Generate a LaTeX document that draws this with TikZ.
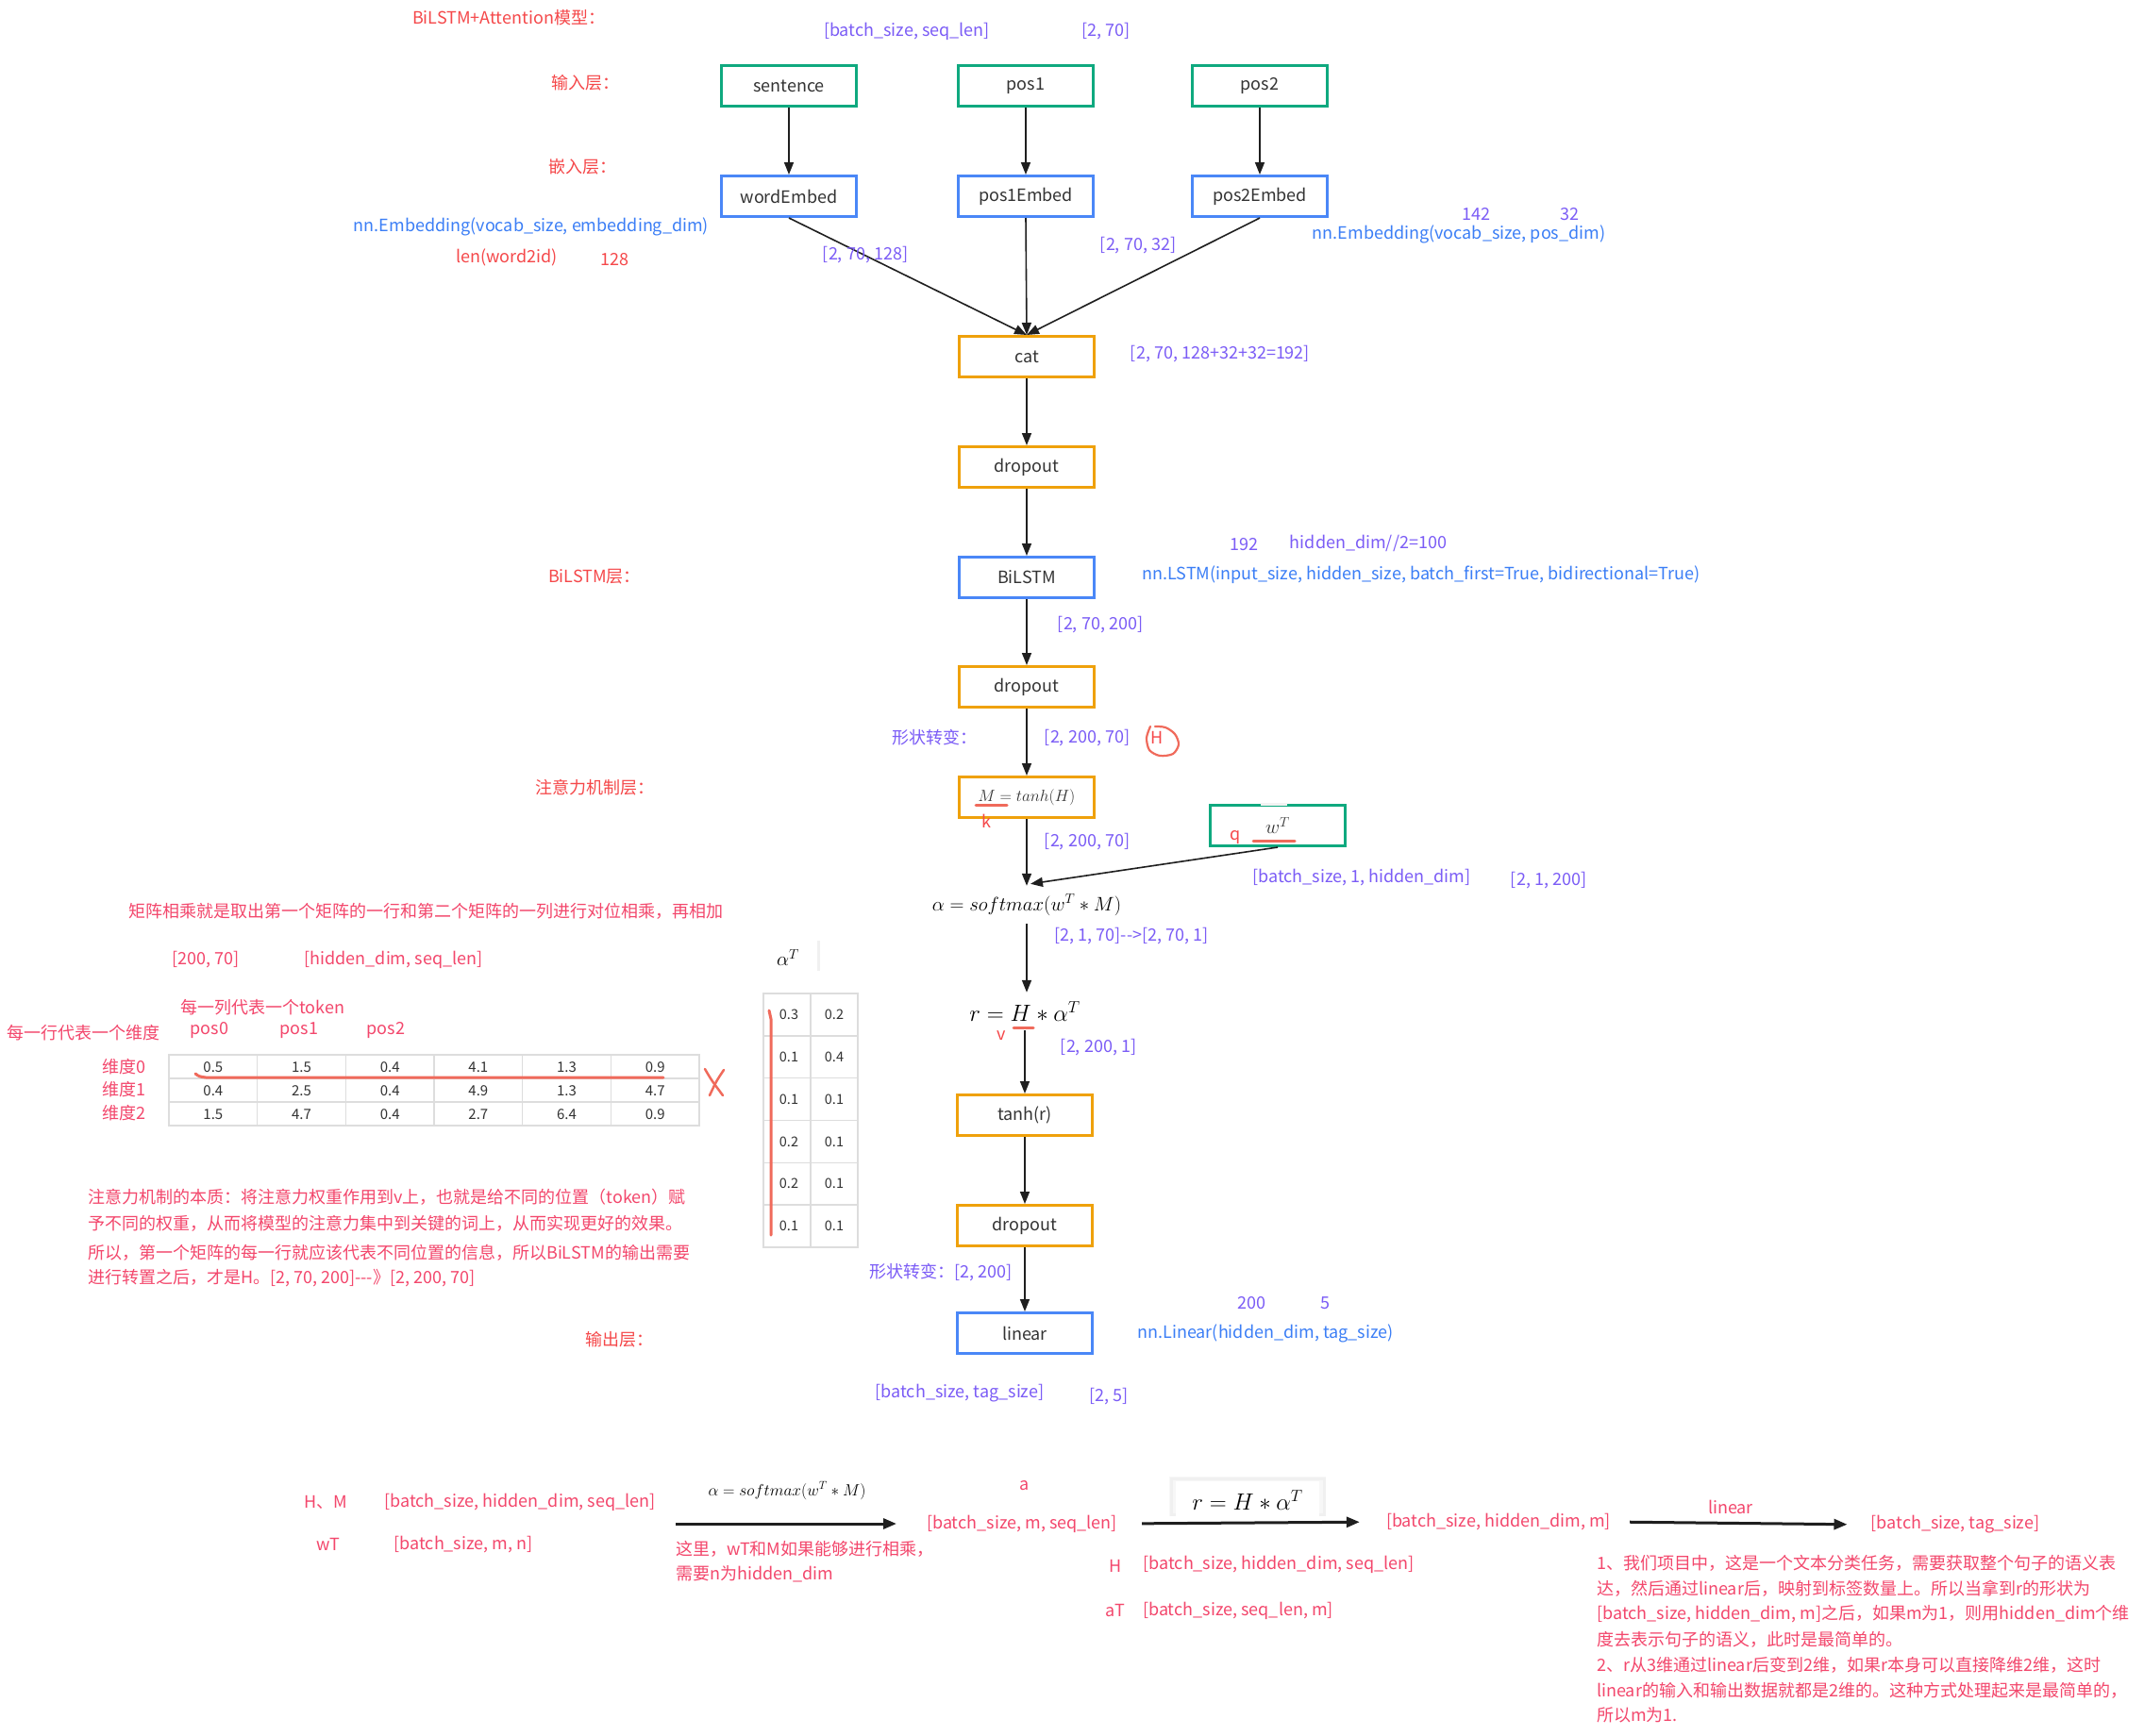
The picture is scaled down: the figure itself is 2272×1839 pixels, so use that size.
\documentclass[tikz,border=0pt]{standalone}
\usepackage[no-math]{fontspec}
\setmainfont{Noto Sans CJK SC}
\usetikzlibrary{arrows.meta,calc}
\definecolor{cR}{HTML}{F5484A}
\definecolor{cP}{HTML}{F3476C}
\definecolor{cV}{HTML}{7B5CF6}
\definecolor{cB}{HTML}{3B7EF6}
\definecolor{cG}{HTML}{0FA97F}
\definecolor{cBB}{HTML}{4A87F7}
\definecolor{cO}{HTML}{EFA10B}
\definecolor{cS}{HTML}{F06A5B}
\definecolor{cT}{HTML}{333333}
\definecolor{cL}{HTML}{DDDDDD}
\newcommand\fsz[2]{\fontsize{#1}{#2}\selectfont}
\begin{document}
\begin{tikzpicture}[x=1pt,y=-1pt,
  every node/.style={inner sep=0pt,font=\fsz{18}{22}},
  box/.style={draw,line width=3pt,minimum width=143pt,minimum height=43pt,inner sep=0pt,font=\fsz{18}{22},text=cT},
  gbox/.style={box,draw=cG},
  bbox/.style={box,draw=cBB},
  obox/.style={box,draw=cO},
  arr/.style={-{Triangle[length=13pt,width=10pt]},line width=1.6pt,draw=black!88},
  barr/.style={-{Triangle[length=14pt,width=11pt]},line width=3pt,draw=black!88},
  redln/.style={draw=cS,line width=3pt,line cap=round},
  tbl/.style={draw=cL,line width=1.5pt},
  vl/.style={text=cV},
  bl/.style={text=cB},
  rl/.style={text=cR},
  pl/.style={text=cP},
  tv/.style={text=cT,font=\fsz{15}{18}},
  tw/.style={text=cT,font=\fsz{14.5}{17}}]
\useasboundingbox (0,0) rectangle (2272,1839);
\fill[white] (0,0) rectangle (2272,1839);

% ---------- main boxes ----------
\node[gbox] (sent) at (836,91) {sentence};
\node[gbox] (p1) at (1087,91) {pos1};
\node[gbox] (p2) at (1335,91) {pos2};
\node[bbox] (we) at (836,208) {wordEmbed};
\node[bbox] (p1e) at (1087,208) {pos1Embed};
\node[bbox] (p2e) at (1335,208) {pos2Embed};
\node[obox] (cat) at (1088,378) {cat};
\node[obox] (d1) at (1088,495) {dropout};
\node[bbox] (lstm) at (1088,612) {BiLSTM};
\node[obox] (d2) at (1088,728) {dropout};
\node[obox,font=\fsz{16}{19}] (mb) at (1088,845) {$M = tanh(H)$};
\node[gbox,font=\fsz{20}{24}] (wt) at (1354,875) {$w^T$};
\draw[gray!10,line width=3pt] (1336,852) -- (1364,852);
\node[minimum height=40pt,font=\fsz{20}{24}] (al) at (1088,959) {$\alpha = softmax(w^T * M)$};
\node[minimum height=40pt,font=\fsz{24}{28}] (rf) at (1086,1072) {$r = H * \alpha^T$};
\node[obox] (tr) at (1086,1182) {tanh(r)};
\node[obox] (d3) at (1086,1299) {dropout};
\node[bbox] (lin) at (1086,1413) {linear};

% ---------- connectors ----------
\draw[arr] (sent) -- (we);
\draw[arr] (p1) -- (p1e);
\draw[arr] (p2) -- (p2e);
\draw[arr] (we.south) -- (cat.north);
\draw[arr] (p1e.south) -- (cat.north);
\draw[arr] (p2e.south) -- (cat.north);
\draw[arr] (cat) -- (d1);
\draw[arr] (d1) -- (lstm);
\draw[arr] (lstm) -- (d2);
\draw[arr] (d2) -- (mb);
\draw[arr] (mb.south) -- (al.north);
\draw[arr] (wt.south) -- ($(al.north)+(4,-2)$);
\draw[arr] (al.south) -- (al.south |- rf.north);
\draw[arr] (rf.south -| tr.north) -- (tr.north);
\draw[arr] (tr) -- (d3);
\draw[arr] (d3) -- (lin);

% red marks on formulas
\draw[redln] (1034,853) -- (1067,853);
\node[rl] (kk) at (1045,870) {k};
\draw[redln] (1328,891) -- (1372,891);
\node[rl] (qq) at (1309,888) {q};
\draw[redln] (1074,1089) -- (1095,1089);
\node[rl] (vv) at (1061,1098) {v};
\node[rl] (hh) at (1226,782) {H};
\draw[redln,line width=2.2pt] plot[smooth] coordinates {(1219,770) (1215,782) (1218,795) (1229,801) (1243,799) (1249,789) (1245,778) (1235,771) (1224,770)};

% ---------- left labels ----------
\node[rl] (title) at (539,19) {BiLSTM+Attention模型：};
\node[rl] (l1) at (620,88) {输入层：};
\node[rl] (l2) at (617,177) {嵌入层：};
\node[rl] (l3) at (630,611) {BiLSTM层：};
\node[rl] (l4) at (630,835) {注意力机制层：};
\node[rl] (l5) at (656,1420) {输出层：};
\node[bl] (ne1) at (563,240) {nn.Embedding(vocab\_size, embedding\_dim)};
\node[rl] (lw) at (537,273) {len(word2id)};
\node[rl] (n128) at (651,275) {128};

% ---------- shape labels ----------
\node[vl] (s1) at (961,33) {[batch\_size, seq\_len]};
\node[vl] (s2) at (1172,33) {[2, 70]};
\node[vl] (s3) at (917,270) {[2, 70, 128]};
\node[vl] (s4) at (1206,260) {[2, 70, 32]};
\node[vl] (s5) at (1564,227) {142};
\node[vl] (s6) at (1663,227) {32};
\node[bl] (ne2) at (1546,248) {nn.Embedding(vocab\_size, pos\_dim)};
\node[vl] (s7) at (1293,375) {[2, 70, 128+32+32=192]};
\node[vl] (s8) at (1318,577) {192};
\node[vl] (s9) at (1450,576) {hidden\_dim//2=100};
\node[bl] (nl) at (1506,609) {nn.LSTM(input\_size, hidden\_size, batch\_first=True, bidirectional=True)};
\node[vl] (s10) at (1166,662) {[2, 70, 200]};
\node[vl] (s11) at (990,782) {形状转变：};
\node[vl] (s12) at (1152,782) {[2, 200, 70]};
\node[vl] (s13) at (1152,892) {[2, 200, 70]};
\node[vl] (s14) at (1443,930) {[batch\_size, 1, hidden\_dim]};
\node[vl] (s15) at (1641,933) {[2, 1, 200]};
\node[vl] (s16) at (1199,992) {[2, 1, 70]-\kern0pt-\kern0pt>[2, 70, 1]};
\node[vl] (s17) at (1164,1110) {[2, 200, 1]};
\node[vl] (s18) at (997,1349) {形状转变：[2, 200]};
\node[vl] (s19) at (1326,1381) {200};
\node[vl] (s20) at (1404,1381) {5};
\node[bl] (nlin) at (1341,1413) {nn.Linear(hidden\_dim, tag\_size)};
\node[vl] (s21) at (1017,1477) {[batch\_size, tag\_size]};
\node[vl] (s22) at (1175,1480) {[2, 5]};

% ---------- matrix explanation ----------
\node[pl] (m1) at (451,966) {矩阵相乘就是取出第一个矩阵的一行和第二个矩阵的一列进行对位相乘，再相加};
\node[pl] (m2) at (218,1017) {[200, 70]};
\node[pl] (m3) at (417,1017) {[hidden\_dim, seq\_len]};
\node[pl] (m4) at (278,1068) {每一列代表一个token};
\node[pl] (m5) at (88,1095) {每一行代表一个维度};
\node[pl] (pp0) at (222,1092) {pos0};
\node[pl] (pp1) at (317,1092) {pos1};
\node[pl] (pp2) at (409,1092) {pos2};
\node[pl] (dd0) at (131,1131) {维度0};
\node[pl] (dd1) at (131,1155) {维度1};
\node[pl] (dd2) at (131,1180) {维度2};

% table 1
\draw[tbl] (179,1118) rectangle (741,1193);
\foreach \yy in {1143,1168} \draw[tbl] (179,\yy) -- (741,\yy);
\foreach \i in {1,...,5} \draw[tbl] ({179+93.67*\i},1118) -- ({179+93.67*\i},1193);
\foreach \v [count=\c from 0] in {0.5,1.5,0.4,4.1,1.3,0.9}
  \node[tv] (ta\c) at ({179+93.67*(\c+0.5)},1131) {\v};
\foreach \v [count=\c from 0] in {0.4,2.5,0.4,4.9,1.3,4.7}
  \node[tv] (tb\c) at ({179+93.67*(\c+0.5)},1156) {\v};
\foreach \v [count=\c from 0] in {1.5,4.7,0.4,2.7,6.4,0.9}
  \node[tv] (tc\c) at ({179+93.67*(\c+0.5)},1181) {\v};
\draw[redln] (207,1138) .. controls (211,1141) .. (218,1142) -- (703,1142);
\draw[redln,line width=2.5pt] (747,1133) .. controls (754,1145) .. (766,1161);
\draw[redln,line width=2.5pt] (767,1134) .. controls (759,1146) .. (752,1161);

% alpha^T and table 2
\node[font=\fsz{21}{25}] (aT) at (835,1015) {$\alpha^T$};
\draw[gray!12,line width=3pt] (867,997) -- (867,1029);
\draw[tbl] (809,1053) rectangle (909,1322);
\draw[tbl] (859,1053) -- (859,1322);
\foreach \i in {1,...,5} \draw[tbl] (809,{1053+44.83*\i}) -- (909,{1053+44.83*\i});
\foreach \a/\b [count=\r from 0] in {0.3/0.2,0.1/0.4,0.1/0.1,0.2/0.1,0.2/0.1,0.1/0.1}{
  \node[tw] (ua\r) at (836,{1075.4+44.83*\r}) {\a};
  \node[tw] (ub\r) at (884,{1075.4+44.83*\r}) {\b};
}
\draw[redln] (815,1071) -- (817,1080) -- (817,1309);

% paragraph
\node[pl,anchor=west] (pa1) at (93,1269) {注意力机制的本质：将注意力权重作用到v上，也就是给不同的位置（token）赋};
\node[pl,anchor=west] (pa2) at (93,1297) {予不同的权重，从而将模型的注意力集中到关键的词上，从而实现更好的效果。};
\node[pl,anchor=west] (pa3) at (93,1328) {所以，第一个矩阵的每一行就应该代表不同位置的信息，所以BiLSTM的输出需要};
\node[pl,anchor=west] (pa4) at (93,1355) {进行转置之后，才是H。[2, 70, 200]-\kern0pt-\kern0pt-》[2, 200, 70]};

% ---------- bottom section ----------
\node[pl] (bHM) at (345,1592) {H、M};
\node[pl] (bHMs) at (551,1592) {[batch\_size, hidden\_dim, seq\_len]};
\node[pl] (bwT) at (348,1637) {wT};
\node[pl] (bwTs) at (491,1637) {[batch\_size, m, n]};
\node[font=\fsz{18.5}{22}] (bal) at (834,1580) {$\alpha = softmax(w^T * M)$};
\coordinate (a1s) at (716,1615);
\coordinate (a1e) at (950,1615);
\draw[barr] (a1s) -- (a1e);
\node[pl,anchor=west] (bn1) at (716,1642) {这里，wT和M如果能够进行相乘，};
\node[pl,anchor=west] (bn2) at (716,1668) {需要n为hidden\_dim};
\node[pl] (ba) at (1086,1575) {a};
\node[pl] (bms) at (1083,1615) {[batch\_size, m, seq\_len]};
\fill[gray!6] (1239,1565) rectangle (1405,1607);
\draw[gray!12,line width=3pt] (1241,1567) rectangle (1403,1605);
\fill[white] (1246,1570) rectangle (1398,1607);
\node[font=\fsz{25}{29}] (brf) at (1322,1590) {$r = H * \alpha^T$};
\node[pl] (bhm) at (1588,1613) {[batch\_size, hidden\_dim, m]};
\draw[barr,shorten <=26pt,shorten >=28pt] (bms.east) -- (bhm.west);
\node[pl] (blin) at (1834,1597) {linear};
\node[pl] (bts) at (2072,1616) {[batch\_size, tag\_size]};
\draw[barr,shorten <=20pt,shorten >=25pt] (bhm.east) -- (bts.west);
\node[pl] (bH) at (1182,1660) {H};
\node[pl] (bHs) at (1355,1658) {[batch\_size, hidden\_dim, seq\_len]};
\node[pl] (baT) at (1182,1707) {aT};
\node[pl] (baTs) at (1312,1707) {[batch\_size, seq\_len, m]};
\node[pl,anchor=west] (q1) at (1692,1657) {1、我们项目中，这是一个文本分类任务，需要获取整个句子的语义表};
\node[pl,anchor=west] (q2) at (1692,1684) {达，然后通过linear后，映射到标签数量上。所以当拿到r的形状为};
\node[pl,anchor=west] (q3) at (1692,1711) {[batch\_size, hidden\_dim, m]之后，如果m为1，则用hidden\_dim个维};
\node[pl,anchor=west] (q4) at (1692,1738) {度去表示句子的语义，此时是最简单的。};
\node[pl,anchor=west] (q5) at (1692,1765) {2、r从3维通过linear后变到2维，如果r本身可以直接降维2维，这时};
\node[pl,anchor=west] (q6) at (1692,1792) {linear的输入和输出数据就都是2维的。这种方式处理起来是最简单的，};
\node[pl,anchor=west] (q7) at (1692,1818) {所以m为1.};
\end{tikzpicture}
\end{document}
